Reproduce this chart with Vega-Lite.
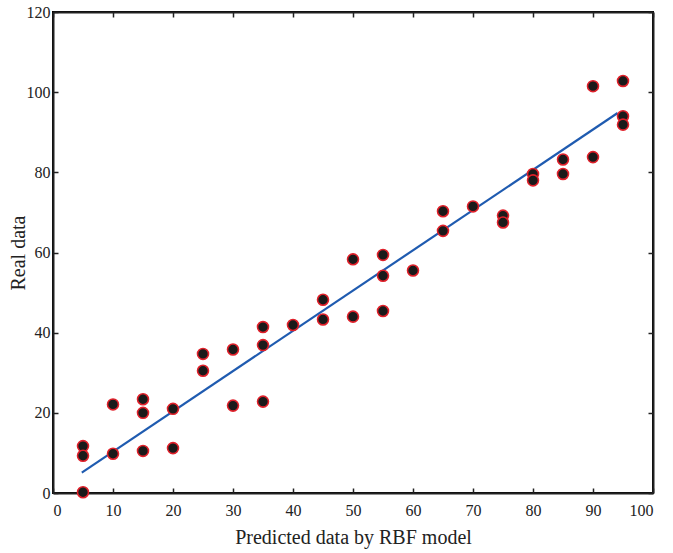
{
  "$schema": "https://vega.github.io/schema/vega-lite/v6.json",
  "width": 600,
  "height": 481,
  "autosize": "none",
  "padding": {"left": 53, "top": 12, "right": 20, "bottom": 60},
  "background": "white",
  "config": {
    "view": {"stroke": "black", "strokeWidth": 2},
    "axis": {
      "grid": false,
      "domainColor": "#222",
      "domainWidth": 2,
      "tickColor": "#222",
      "tickWidth": 1.5,
      "tickSize": -5,
      "labelFont": "Liberation Serif",
      "labelFontSize": 16,
      "labelColor": "#222",
      "titleFont": "Liberation Serif",
      "titleFontSize": 20,
      "titleFontWeight": "normal",
      "titleColor": "#222"
    }
  },
  "datasets": {
    "points": [
      {"pred": 5, "real": 11.7}, {"pred": 5, "real": 9.3}, {"pred": 5, "real": 0.2},
      {"pred": 10, "real": 22.1}, {"pred": 10, "real": 9.8},
      {"pred": 15, "real": 23.4}, {"pred": 15, "real": 20}, {"pred": 15, "real": 10.5},
      {"pred": 20, "real": 21}, {"pred": 20, "real": 11.2},
      {"pred": 25, "real": 34.7}, {"pred": 25, "real": 30.5},
      {"pred": 30, "real": 35.8}, {"pred": 30, "real": 21.8},
      {"pred": 35, "real": 41.4}, {"pred": 35, "real": 36.9}, {"pred": 35, "real": 22.8},
      {"pred": 40, "real": 41.9},
      {"pred": 45, "real": 48.2}, {"pred": 45, "real": 43.3},
      {"pred": 50, "real": 58.3}, {"pred": 50, "real": 44},
      {"pred": 55, "real": 59.4}, {"pred": 55, "real": 54.2}, {"pred": 55, "real": 45.4},
      {"pred": 60, "real": 55.5},
      {"pred": 65, "real": 70.3}, {"pred": 65, "real": 65.4},
      {"pred": 70, "real": 71.5},
      {"pred": 75, "real": 69.2}, {"pred": 75, "real": 67.5},
      {"pred": 80, "real": 79.6}, {"pred": 80, "real": 78},
      {"pred": 85, "real": 83.2}, {"pred": 85, "real": 79.6},
      {"pred": 90, "real": 101.5}, {"pred": 90, "real": 83.8},
      {"pred": 95, "real": 102.8}, {"pred": 95, "real": 94}, {"pred": 95, "real": 91.9}
    ],
    "fit": [
      {"pred": 4.8, "real": 5.1},
      {"pred": 94.1, "real": 94.8}
    ]
  },
  "layer": [
    {
      "data": {"name": "fit"},
      "mark": {"type": "line", "color": "#1f5bb0", "strokeWidth": 2.2},
      "encoding": {
        "x": {"field": "pred", "type": "quantitative", "scale": {"domain": [0, 100], "nice": false},
              "axis": {"title": "Predicted data by RBF model", "values": [0,10,20,30,40,50,60,70,80,90,100], "labelPadding": 14, "titlePadding": 9}},
        "y": {"field": "real", "type": "quantitative", "scale": {"domain": [0, 120], "nice": false},
              "axis": {"title": "Real data", "values": [0,20,40,60,80,100,120], "labelPadding": 8, "titlePadding": -2}}
      }
    },
    {
      "data": {"name": "points"},
      "mark": {"type": "point", "shape": "circle", "filled": true, "fill": "#1a1a1a", "stroke": "#e0202a", "strokeWidth": 1.6, "size": 120, "opacity": 1},
      "encoding": {
        "x": {"field": "pred", "type": "quantitative", "scale": {"domain": [0, 100], "nice": false},
              "axis": {"orient": "top", "title": null, "labels": false, "values": [0,10,20,30,40,50,60,70,80,90,100]}},
        "y": {"field": "real", "type": "quantitative", "scale": {"domain": [0, 120], "nice": false},
              "axis": {"orient": "right", "title": null, "labels": false, "values": [0,20,40,60,80,100,120]}}
      }
    }
  ],
  "resolve": {"axis": {"x": "independent", "y": "independent"}}
}
